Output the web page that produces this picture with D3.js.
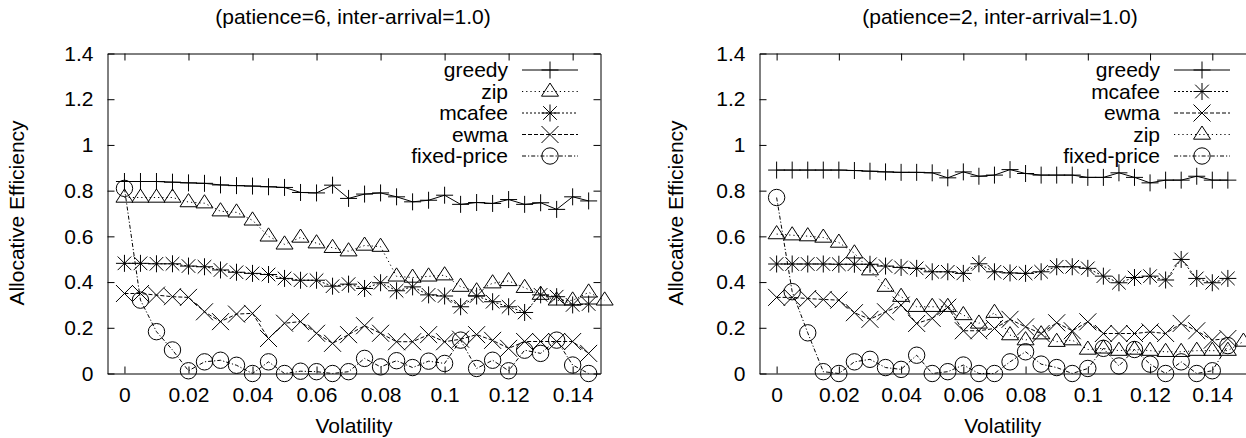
<!DOCTYPE html>
<html>
<head>
<meta charset="utf-8">
<script src="https://cdn.jsdelivr.net/npm/d3@7"></script>
<style>
  body { margin: 0; background: #fff; }
  svg { display: block; font-family: "Liberation Sans", Arial, Helvetica, sans-serif; }
</style>
</head>
<body>
<svg id="chart" width="1246" height="438"></svg>
<script>
// ---- data ----
const volatility = [0, 0.005, 0.01, 0.015, 0.02, 0.025, 0.03, 0.035, 0.04, 0.045,
  0.05, 0.055, 0.06, 0.065, 0.07, 0.075, 0.08, 0.085, 0.09, 0.095,
  0.1, 0.105, 0.11, 0.115, 0.12, 0.125, 0.13, 0.135, 0.14, 0.145];
const volatilityZip = volatility.concat([0.15]);   // zip has one extra sample

const xTickValues = [0, 0.02, 0.04, 0.06, 0.08, 0.1, 0.12, 0.14];
const xTickLabels = ["0", "0.02", "0.04", "0.06", "0.08", "0.1", "0.12", "0.14"];
const yTickValues = [0, 0.2, 0.4, 0.6, 0.8, 1, 1.2, 1.4];
const yTickLabels = ["0", "0.2", "0.4", "0.6", "0.8", "1", "1.2", "1.4"];

// patience = 6
const greedyP6 = [0.84, 0.84, 0.84, 0.837, 0.834, 0.832, 0.825, 0.822, 0.82, 0.817,
  0.814, 0.792, 0.79, 0.824, 0.766, 0.785, 0.79, 0.773, 0.751, 0.758,
  0.78, 0.74, 0.748, 0.744, 0.761, 0.74, 0.747, 0.718, 0.773, 0.755];
const zipP6 = [0.77, 0.77, 0.77, 0.77, 0.75, 0.745, 0.71, 0.705, 0.67, 0.6,
  0.565, 0.595, 0.57, 0.55, 0.535, 0.56, 0.555, 0.425, 0.42, 0.425,
  0.43, 0.38, 0.36, 0.395, 0.405, 0.375, 0.345, 0.32, 0.32, 0.355, 0.32];
const mcafeeP6 = [0.482, 0.482, 0.48, 0.48, 0.47, 0.467, 0.453, 0.443, 0.438, 0.433,
  0.416, 0.408, 0.408, 0.382, 0.391, 0.372, 0.397, 0.362, 0.379, 0.344,
  0.339, 0.292, 0.339, 0.314, 0.292, 0.267, 0.344, 0.336, 0.3, 0.304];
const ewmaP6 = [0.35, 0.35, 0.343, 0.336, 0.333, 0.27, 0.227, 0.26, 0.263, 0.153,
  0.22, 0.227, 0.176, 0.132, 0.17, 0.209, 0.176, 0.139, 0.139, 0.17,
  0.139, 0.15, 0.17, 0.145, 0.11, 0.14, 0.14, 0.14, 0.14, 0.088];
const fixedP6 = [0.81, 0.321, 0.183, 0.103, 0.012, 0.051, 0.058, 0.036, 0, 0.051,
  0, 0.01, 0.008, 0, 0.008, 0.066, 0.029, 0.056, 0.026, 0.054,
  0.044, 0.146, 0.022, 0.058, 0.012, 0.102, 0.088, 0.146, 0.037, 0];

// patience = 2
const greedyP2 = [0.89, 0.89, 0.89, 0.89, 0.89, 0.888, 0.885, 0.882, 0.88, 0.88,
  0.878, 0.856, 0.882, 0.863, 0.868, 0.892, 0.875, 0.868, 0.868, 0.868,
  0.858, 0.858, 0.878, 0.858, 0.834, 0.846, 0.846, 0.863, 0.846, 0.846];
const mcafeeP2 = [0.479, 0.479, 0.479, 0.479, 0.478, 0.478, 0.478, 0.47, 0.464, 0.46,
  0.445, 0.445, 0.438, 0.48, 0.445, 0.44, 0.438, 0.445, 0.467, 0.467,
  0.46, 0.426, 0.397, 0.42, 0.426, 0.409, 0.499, 0.416, 0.397, 0.416];
const ewmaP2 = [0.333, 0.333, 0.328, 0.324, 0.321, 0.266, 0.237, 0.27, 0.299, 0.219,
  0.241, 0.29, 0.187, 0.187, 0.197, 0.237, 0.204, 0.175, 0.222, 0.187,
  0.226, 0.175, 0.175, 0.175, 0.182, 0.175, 0.219, 0.187, 0.146, 0.153];
const zipP2 = [0.61, 0.605, 0.601, 0.595, 0.573, 0.526, 0.452, 0.38, 0.336, 0.292,
  0.292, 0.292, 0.256, 0.219, 0.266, 0.168, 0.146, 0.172, 0.139, 0.146,
  0.105, 0.11, 0.1, 0.105, 0.1, 0.095, 0.095, 0.1, 0.1, 0.1, 0.14];
const fixedP2 = [0.77, 0.358, 0.178, 0.008, 0, 0.051, 0.062, 0.026, 0.018, 0.08,
  0, 0.008, 0.037, 0, 0, 0.051, 0.095, 0.041, 0.026, 0,
  0.022, 0.11, 0.033, 0.105, 0.041, 0, 0.051, 0, 0.012, 0.122];

// ---- styles ----
const DASH = { solid: null, dots: "1.2,3", fine: "2,2", dashed: "4,2", dashdot: "4,2,1.2,2" };
const S = 8.5;
const MARK = {
  plus:     `M${-S},0H${S}M0,${-S}V${S}`,
  cross:    `M${-S},${-S}L${S},${S}M${-S},${S}L${S},${-S}`,
  star:     `M${-S},0H${S}M0,${-S}V${S}M${-S*0.8},${-S*0.8}L${S*0.8},${S*0.8}M${-S*0.8},${S*0.8}L${S*0.8},${-S*0.8}`,
  triangle: `M0,${-S}L${S},${S*0.55}L${-S},${S*0.55}Z`,
  circle:   d3.arc()({ innerRadius: 0, outerRadius: 8.2, startAngle: 0, endAngle: 2 * Math.PI })
};

const panels = [
  {
    title: "(patience=6, inter-arrival=1.0)",
    left: 107.5, right: 600.5, domain: [-0.0053, 0.1487],
    titleX: 353, ylabX: 24, legendX: 508, lineX: [522, 578],
    series: [
      { name: "greedy", xs: volatility, ys: greedyP6, dash: "solid", mark: "plus" },
      { name: "zip", xs: volatilityZip, ys: zipP6, dash: "dots", mark: "triangle" },
      { name: "mcafee", xs: volatility, ys: mcafeeP6, dash: "fine", mark: "star" },
      { name: "ewma", xs: volatility, ys: ewmaP6, dash: "dashed", mark: "cross" },
      { name: "fixed-price", xs: volatility, ys: fixedP6, dash: "dashdot", mark: "circle" }
    ]
  },
  {
    title: "(patience=2, inter-arrival=1.0)",
    left: 759.5, right: 1254, domain: [-0.0055, 0.1534],
    titleX: 1000, ylabX: 683, legendX: 1160, lineX: [1174, 1230],
    series: [
      { name: "greedy", xs: volatility, ys: greedyP2, dash: "solid", mark: "plus" },
      { name: "mcafee", xs: volatility, ys: mcafeeP2, dash: "fine", mark: "star" },
      { name: "ewma", xs: volatility, ys: ewmaP2, dash: "dashed", mark: "cross" },
      { name: "zip", xs: volatilityZip, ys: zipP2, dash: "dots", mark: "triangle" },
      { name: "fixed-price", xs: volatility, ys: fixedP2, dash: "dashdot", mark: "circle" }
    ]
  }
];

const svg = d3.select("#chart");
const TOP = 53.5, BOTTOM = 373.5, FS = 21;
const legendRows = [70, 91.5, 113, 134.5, 156];

panels.forEach(p => {
  const x = d3.scaleLinear().domain(p.domain).range([p.left, p.right]);
  const y = d3.scaleLinear().domain([0, 1.4]).range([BOTTOM, TOP]);
  const g = svg.append("g");

  const styleAxis = sel => {
    sel.select(".domain").attr("stroke", "#000").attr("stroke-width", 1);
    sel.selectAll(".tick line").attr("stroke", "#000");
    sel.selectAll("text").attr("font-size", FS).attr("fill", "#000").attr("font-family", null);
  };

  // axes: ticks point inward, mirrored on top/right
  g.append("g").attr("transform", `translate(0,${BOTTOM})`)
    .call(d3.axisBottom(x).tickValues(xTickValues).tickSize(-7).tickSizeOuter(0).tickPadding(14)
      .tickFormat((d, i) => xTickLabels[i]))
    .call(styleAxis);
  g.append("g").attr("transform", `translate(0,${TOP})`)
    .call(d3.axisTop(x).tickValues(xTickValues).tickSize(-7).tickSizeOuter(0).tickFormat(""))
    .call(styleAxis);
  g.append("g").attr("transform", `translate(${p.left},0)`)
    .call(d3.axisLeft(y).tickValues(yTickValues).tickSize(-7).tickSizeOuter(0).tickPadding(14)
      .tickFormat((d, i) => yTickLabels[i]))
    .call(styleAxis);
  g.append("g").attr("transform", `translate(${p.right},0)`)
    .call(d3.axisRight(y).tickValues(yTickValues).tickSize(-7).tickSizeOuter(0).tickFormat(""))
    .call(styleAxis);

  // titles
  g.append("text").attr("x", p.titleX).attr("y", 24).attr("text-anchor", "middle")
    .attr("font-size", FS).text(p.title);
  g.append("text").attr("x", (p.left + Math.min(p.right, 1246)) / 2).attr("y", 433)
    .attr("text-anchor", "middle").attr("font-size", FS).text("Volatility");
  g.append("text").attr("transform", `translate(${p.ylabX},213) rotate(-90)`)
    .attr("text-anchor", "middle").attr("font-size", FS).text("Allocative Efficiency");

  // series
  p.series.forEach(s => {
    const pts = s.ys.map((v, i) => [s.xs[i], v]);
    g.append("path").datum(pts)
      .attr("d", d3.line().x(d => x(d[0])).y(d => y(d[1])))
      .attr("fill", "none").attr("stroke", "#000").attr("stroke-width", 1)
      .attr("stroke-dasharray", DASH[s.dash]);
    g.selectAll(null).data(pts).join("path")
      .attr("transform", d => `translate(${x(d[0])},${y(d[1])})`)
      .attr("d", MARK[s.mark])
      .attr("fill", "none").attr("stroke", "#000").attr("stroke-width", 1);
  });

  // legend
  const lg = g.append("g");
  p.series.forEach((s, i) => {
    const cy = legendRows[i];
    lg.append("text").attr("x", p.legendX).attr("y", cy + 7).attr("text-anchor", "end")
      .attr("font-size", FS).text(s.name);
    lg.append("line").attr("x1", p.lineX[0]).attr("x2", p.lineX[1]).attr("y1", cy).attr("y2", cy)
      .attr("stroke", "#000").attr("stroke-dasharray", DASH[s.dash]);
    lg.append("path").attr("transform", `translate(${(p.lineX[0] + p.lineX[1]) / 2},${cy})`)
      .attr("d", MARK[s.mark]).attr("fill", "none").attr("stroke", "#000");
  });
});
</script>
</body>
</html>
